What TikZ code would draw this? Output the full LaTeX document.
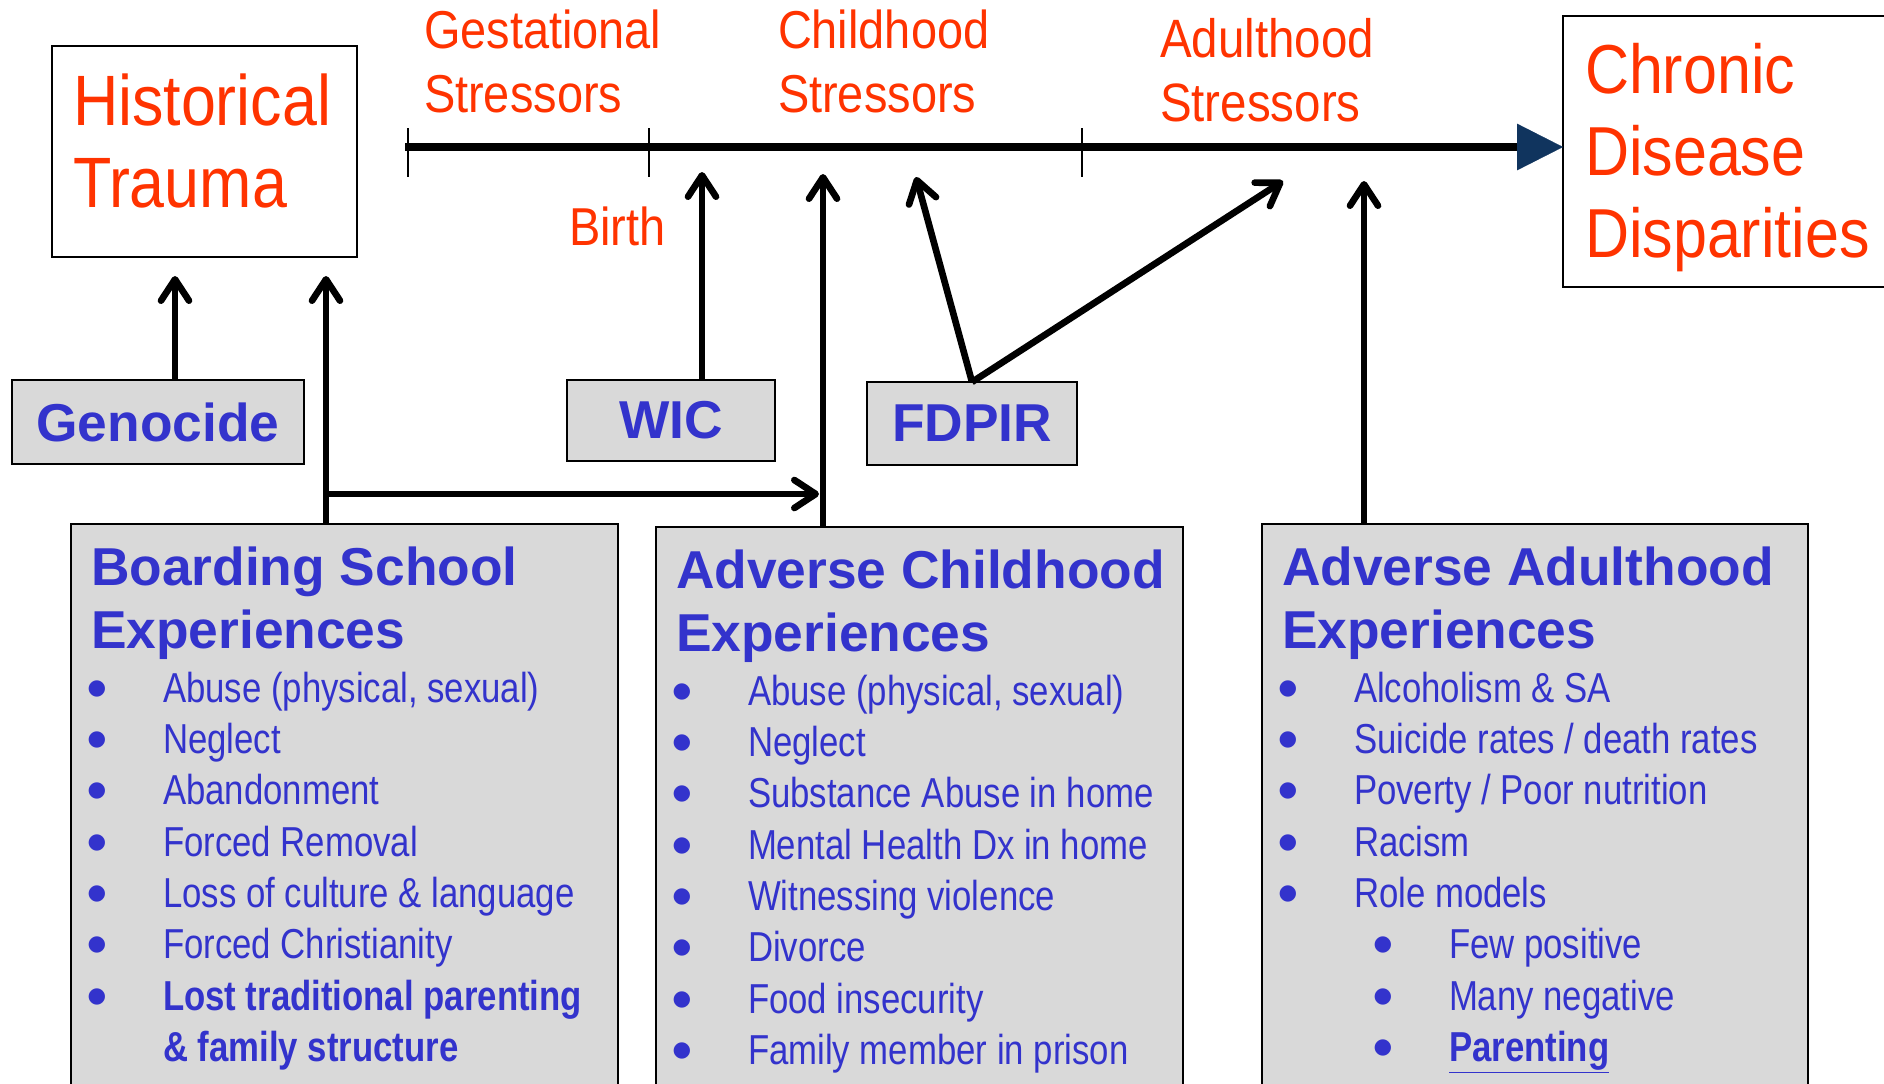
\documentclass[tikz,border=0pt]{standalone}
\usepackage{fontspec}
\setmainfont{Liberation Sans}
\newfontfamily\narrowred[FakeStretch=0.88]{Liberation Sans}
\newfontfamily\narrowblue[FakeStretch=0.83]{Liberation Sans}
\newfontfamily\dotfont{DejaVu Sans}
\usetikzlibrary{calc,arrows.meta}

\definecolor{stressred}{RGB}{255,51,0}
\definecolor{expblue}{RGB}{51,51,204}
\definecolor{boxgray}{RGB}{217,217,217}
\definecolor{headnavy}{RGB}{16,52,94}

\newcommand{\dotmark}{\hspace*{-2.5pt}\raisebox{6pt}{\dotfont\fontsize{16}{16}\selectfont ●}}
\newcommand{\bul}{\makebox[54pt][l]{\dotmark}}
\newcommand{\subbul}{\hspace{71.25pt}\makebox[54pt][l]{\dotmark}}
\newcommand{\nobul}{\hspace{54pt}}

\begin{document}
\begin{tikzpicture}[x=0.75pt,y=-0.75pt,inner sep=0pt,outer sep=0pt,
    graybox/.style={draw,line width=0.9pt,fill=boxgray,anchor=north west},
    policy/.style={draw,line width=0.9pt,fill=boxgray,text=expblue,font=\bfseries\fontsize{40}{48}\selectfont},
    redtxt/.style={text=stressred,anchor=base west},
    headtxt/.style={text=expblue,anchor=base west,font=\bfseries\fontsize{40}{47.5}\selectfont},
    itemtxt/.style={text=expblue,anchor=base west,font=\narrowblue\fontsize{31.4}{38.5}\selectfont},
    lifearrow/.style={line width=5pt,-{Straight Barb[length=16pt,width=21pt,round]}}]
    \useasboundingbox (0,0) rectangle (1884,1083);

    % outcome boxes
    \node[draw,line width=1.2pt,anchor=north west,minimum width=228.75pt,minimum height=158.25pt] (hist) at (52,46) {};
    \node[redtxt] (hist_txt) at (73,125)
    {\narrowred\fontsize{53.5}{61.5}\selectfont
    \begin{tabular}[t]{@{}l@{}}
    Historical \\
    Trauma \\
    \end{tabular}
    };
    \node[draw,line width=1.2pt,anchor=north west,minimum width=249pt,minimum height=203.25pt] (chronic) at (1563,16) {};
    \node[redtxt] (chronic_txt) at (1585,93)
    {\narrowred\fontsize{52}{61.75}\selectfont
    \begin{tabular}[t]{@{}l@{}}
    Chronic \\
    Disease \\
    Disparities \\
    \end{tabular}
    };

    % timeline
    \coordinate (tl_start) at (405,147);
    \draw[line width=6pt,-{Triangle[length=34.5pt,width=35pt,line width=0.1pt,color=headnavy]}] (tl_start) -- (tl_start -| chronic.west);
    \foreach \tx in {408,649,1082}
        \draw[line width=0.8pt] (\tx,128) -- (\tx,177);

    % stressor labels
    \node[redtxt] (gest) at (424,48)
    {\narrowred\fontsize{40}{48}\selectfont
    \begin{tabular}[t]{@{}l@{}} Gestational \\ Stressors \\ \end{tabular}};
    \node[redtxt] (child) at (778,48)
    {\narrowred\fontsize{40}{48}\selectfont
    \begin{tabular}[t]{@{}l@{}} Childhood \\ Stressors \\ \end{tabular}};
    \node[redtxt] (adult) at (1160,57)
    {\narrowred\fontsize{40.5}{48}\selectfont
    \begin{tabular}[t]{@{}l@{}} Adulthood \\ Stressors \\ \end{tabular}};
    \node[redtxt] (birth) at (569,245) {\narrowred\fontsize{40}{48}\selectfont Birth};

    % policies
    \node[policy,minimum width=219pt,minimum height=63pt] (genocide) at (158,422) {Genocide};
    \node[policy,minimum width=156pt,minimum height=60.75pt] (wic) at (671,420.5) {WIC};
    \node[policy,minimum width=157.5pt,minimum height=62.25pt] (fdpir) at (972,423.5) {FDPIR};

    % boarding school
    \node[graybox,minimum width=410.25pt,minimum height=432pt] (bs) at (71,524) {};
    \node[headtxt] (bs_head) at ($(bs.north west)+(20,61)$)
    {\begin{tabular}[t]{@{}l@{}} Boarding School \\ Experiences \\ \end{tabular}};
    \node[itemtxt] (bs_items) at ($(bs.north west)+(20,178)$)
    {
    \begin{tabular}[t]{@{}l@{}}
    \bul Abuse (physical, sexual) \\
    \bul Neglect \\
    \bul Abandonment \\
    \bul Forced Removal \\
    \bul Loss of culture \& language \\
    \bul Forced Christianity \\
    \bul \textbf{Lost traditional parenting} \\
    \nobul \textbf{\& family structure} \\
    \end{tabular}
    };

    % adverse childhood
    \node[graybox,minimum width=395.25pt,minimum height=429.75pt] (ace) at (656,527) {};
    \node[headtxt] (ace_head) at ($(ace.north west)+(20,61)$)
    {\begin{tabular}[t]{@{}l@{}} Adverse Childhood \\ Experiences \\ \end{tabular}};
    \node[itemtxt] (ace_items) at ($(ace.north west)+(20,178)$)
    {
    \begin{tabular}[t]{@{}l@{}}
    \bul Abuse (physical, sexual) \\
    \bul Neglect \\
    \bul Substance Abuse in home \\
    \bul Mental Health Dx in home \\
    \bul Witnessing violence \\
    \bul Divorce \\
    \bul Food insecurity \\
    \bul Family member in prison \\
    \end{tabular}
    };

    % adverse adulthood
    \node[graybox,minimum width=409.5pt,minimum height=432pt] (aae) at (1262,524) {};
    \node[headtxt] (aae_head) at ($(aae.north west)+(20,61)$)
    {\begin{tabular}[t]{@{}l@{}} Adverse Adulthood \\ Experiences \\ \end{tabular}};
    \node[itemtxt] (aae_items) at ($(aae.north west)+(20,178)$)
    {
    \begin{tabular}[t]{@{}l@{}}
    \bul Alcoholism \& SA \\
    \bul Suicide rates / death rates \\
    \bul Poverty / Poor nutrition \\
    \bul Racism \\
    \bul Role models \\
    \subbul Few positive \\
    \subbul Many negative \\
    \subbul \underline{\textbf{Parenting}} \\
    \end{tabular}
    };

    % arrows
    \coordinate (hist_in1) at (175,276);
    \coordinate (hist_in2) at (326,276);
    \coordinate (bs_fork) at (326,494);
    \coordinate (ace_side) at (819,494);
    \coordinate (wic_in) at (702,172);
    \coordinate (ace_in) at (823,174);
    \coordinate (fdpir_in1) at (916,177);
    \coordinate (fdpir_in2) at (1283,181);
    \coordinate (aae_in) at (1364,181);
    \draw[lifearrow] (genocide.north -| hist_in1) -- (hist_in1);
    \draw[lifearrow] (bs.north -| hist_in2) -- (hist_in2);
    \draw[lifearrow] (bs_fork) -- (ace_side);
    \draw[lifearrow] (wic.north -| wic_in) -- (wic_in);
    \draw[lifearrow] (ace.north -| ace_in) -- (ace_in);
    \draw[lifearrow] (fdpir.north) -- (fdpir_in1);
    \draw[lifearrow] (fdpir.north) -- (fdpir_in2);
    \draw[lifearrow] (aae.north -| aae_in) -- (aae_in);
\end{tikzpicture}
\end{document}
